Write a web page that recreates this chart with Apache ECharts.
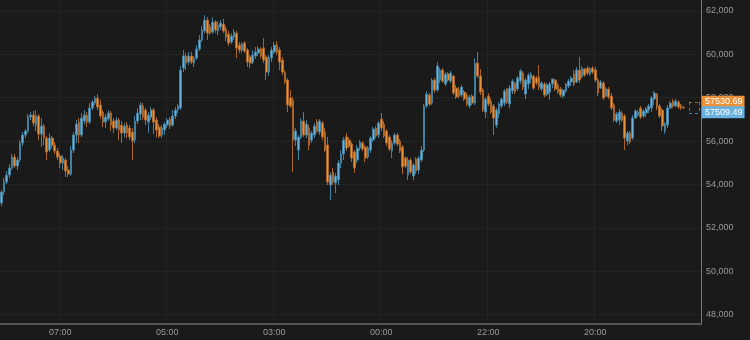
<!DOCTYPE html>
<html><head><meta charset="utf-8">
<script src="https://cdn.jsdelivr.net/npm/echarts@6/dist/echarts.min.js"></script>
<style>html,body{margin:0;padding:0;background:#1a1a1a}#c{width:750px;height:340px}</style>
</head><body><div id="c"></div>
<script>
const opens=[53143,53650,54111,54433,54756,55263,54848,55124,55908,56276,
56461,57106,57198,56737,57152,56322,56691,56138,55585,56138,
55816,55539,55309,54986,55124,54664,54479,55585,56276,56875,
56276,56921,57198,56875,57520,57751,57981,57659,57336,56875,
57013,57290,56921,56599,56967,56737,56368,56737,56599,56414,
56046,56921,57244,57613,57428,56875,57106,57428,56967,56645,
56276,56507,56737,57013,56737,57152,57428,57520,59364,59917,
59640,59917,59594,59824,60239,60654,61069,61575,61253,61022,
61483,61069,61253,61391,61161,60930,60562,60792,60976,60423,
60193,60516,60193,59870,59640,59917,60055,60239,60285,59870,
59179,59824,60101,60423,60193,59732,59179,58811,57981,57889,
56046,55585,56184,56921,56276,56599,56046,56276,56875,56414,
56829,56414,55816,53973,54572,54065,54203,54986,55401,56184,
56046,55862,55493,55124,55677,55908,55724,55263,55585,56046,
56599,56276,57013,56783,56461,56184,55539,55908,56276,56000,
55724,55217,54433,55124,54387,55171,54664,55124,55585,57613,
58119,57751,58811,58350,58811,59271,58626,59087,58765,58995,
58442,58350,58119,58258,58119,57613,58073,57751,59594,58995,
58350,57336,58073,57843,57613,56737,57244,57613,57751,58396,
57705,58304,58672,58396,58765,59133,58165,58626,58857,58995,
58903,58949,58396,58626,58165,58258,58626,58811,58580,58396,
58073,58304,58534,58718,59087,58718,59271,58949,59317,59364,
59087,59364,59271,58811,58442,58672,58073,58396,58073,57659,
56921,56967,57290,57152,56000,56368,56138,57060,57198,57520,
57152,57290,57428,57520,57935,58165,57613,57428,56461,56737,
57520,57843,57613,57797,57659,57560];
const closes=[53650,54111,54433,54756,55263,54848,55124,55908,56276,56461,
57106,57198,56829,57152,56322,56691,56138,55493,56138,55816,
55539,55263,54986,55217,54618,54479,55585,56276,56783,56276,
57060,57198,56875,57520,57797,57981,57566,57152,56875,57106,
57290,56737,56599,56967,56507,56368,56691,56368,56184,56000,
56921,57290,57659,57106,56967,57198,57428,56875,56507,56230,
56599,56783,56967,56691,57152,57428,57613,59271,59917,59594,
59917,59640,59824,60239,60654,61115,61575,60976,60976,61483,
61115,61345,61437,61069,60792,60516,60838,61022,60285,60193,
60469,60147,59640,59594,59963,60101,60239,59917,59732,59179,
59824,60193,60423,60101,59640,59179,58718,57659,57613,56046,
56461,56184,56921,56276,56783,55816,56368,56691,56461,56921,
56184,55585,54111,54433,54111,54387,54986,55401,56046,55677,
55770,55217,54756,55677,55954,55631,55217,55677,56138,56553,
56230,56829,56599,56230,55908,55631,55908,56276,55862,55539,
54802,54848,55124,54572,54894,54618,55217,55585,57613,58165,
57705,58811,58350,59456,59271,58765,59087,58811,59133,58212,
58027,58073,58488,57935,57705,58027,57751,59594,58995,58258,
57428,57935,57705,57336,57060,57428,57705,57935,58304,57797,
58442,58765,58258,58903,59225,58488,58811,59041,59087,58442,
58672,58488,58672,58119,58580,58626,58857,58396,58258,58119,
58350,58626,58765,58903,58626,59271,58811,59364,59041,59133,
59317,59179,58811,58212,58718,57981,58396,58027,57520,56967,
57244,57336,56967,56138,56368,55954,57060,57382,57336,57106,
57382,57474,57613,57981,58212,57566,57152,56691,56783,57520,
57751,57613,57843,57566,57520,57530.69];
const lows=[53002,53512,54019,54295,54664,54756,54664,55032,55770,56138,
56368,56967,56691,56461,56046,55724,55816,55124,55493,55677,
55401,55124,54756,54664,54341,54341,54387,55447,55908,55908,
56184,56783,56645,56783,57428,57659,57428,57013,56645,56599,
56921,56461,56368,56507,56046,55908,56184,56138,56046,55124,
55908,56783,56967,56967,56737,56368,56967,56322,56184,56138,
56138,56276,56599,56553,56645,57013,57290,57428,59179,59271,
59502,59548,59410,59732,60147,60562,60976,60654,60884,60930,
60976,60884,61115,60976,60608,60377,60469,60654,59824,60055,
60055,60055,59410,59364,59548,59778,59917,59824,59594,58811,
58995,59640,60009,59963,59271,59041,58626,57336,57520,54572,
55770,55124,56092,56184,56138,55585,55908,56138,56368,56276,
56046,55493,53973,53281,53973,53604,53973,54756,55124,55539,
55677,55032,54526,54986,55539,55539,55032,55171,55447,55954,
56138,56138,56461,56138,55770,55539,55217,55816,55770,55447,
54479,54756,54203,54479,54203,54479,54479,55032,55493,57520,
57613,57659,58212,58258,58672,58672,58534,58718,58672,58119,
57935,57981,58027,57843,57613,57520,57659,57659,58903,58119,
57336,57060,57613,57244,56276,56599,57060,57520,57613,57705,
57520,58165,58165,58304,58626,58350,57935,58396,58672,58350,
58580,58350,58304,58027,58073,57889,58442,58304,58165,58027,
57981,58212,58442,58534,58534,58672,58672,58903,58949,59041,
58995,59087,58718,58073,58396,57889,58027,57935,57428,56875,
56829,56737,56875,55585,55816,55862,56046,57013,57106,57013,
57060,57106,57290,57336,57659,57428,57060,56461,56322,56599,
57474,57520,57566,57474,57428,57480];
const highs=[53742,54295,54618,54940,55401,55401,55263,56046,56414,56553,
57244,57336,57382,57428,57244,57060,56783,56230,56368,56230,
55954,55677,55447,55355,55217,54848,55770,56414,56967,57060,
57290,57428,57336,57751,57889,58073,58165,57889,57428,57244,
57428,57382,57060,57106,57060,56921,56829,56875,56737,56599,
57152,57520,57797,57751,57520,57336,57566,57520,57106,56783,
56737,56875,57060,57106,57428,57566,57705,59456,60193,60055,
60101,60101,59917,60423,60884,61299,61806,61714,61391,61714,
61575,61529,61575,61621,61299,61069,60976,61161,61069,60562,
60562,60608,60285,59963,60193,60331,60377,60331,60746,59963,
59963,60331,60562,60608,60331,59870,59271,58903,58350,58027,
56599,56276,57060,57336,56967,56737,56461,56829,57013,57013,
56921,56599,56184,54572,54756,54526,55124,55585,56184,56368,
56184,55954,55585,55816,56046,56000,55816,55770,56230,56645,
56691,56921,57290,56921,56553,56276,56046,56368,56368,56092,
55816,55309,55263,55217,54986,55263,55309,55770,57705,58304,
58212,58903,58903,59640,59364,59364,59179,59179,59225,59041,
58580,58488,58580,58350,58212,58119,58165,59824,60101,59317,
58442,58027,58212,57981,57705,57520,57797,57981,58396,58442,
58580,58857,58718,58995,59317,59225,58903,59133,59179,59041,
58995,59502,58765,58718,58672,58718,58903,58857,58672,58488,
58396,58672,58857,58995,59271,59410,59870,59456,59364,59456,
59410,59456,59410,58903,58811,58765,58488,58488,58212,57751,
57336,57474,57382,57244,56461,56461,57198,57474,57428,57613,
57474,57566,57705,58073,58304,58212,57705,57520,56875,57659,
57843,57935,57935,57889,57705,57610];
const timeLabels=['07:00','05:00','03:00','00:00','22:00','20:00'];
const timeSlots=[22,62,102,142,182,222];
const slotCount=262;
const priceTicks=[48000,50000,52000,54000,56000,58000,60000,62000];
const askPrice=57530.69;
const bidPrice=57509.49;
const pendingBox={from:257,to:261,top:57810,mid:57530,bottom:57290};

const UP='#69b1df', UPB='#44809f', DN='#ea9139', DNB='#aa6628';
const labelMap={};
timeSlots.forEach((s,k)=>{labelMap[s]=timeLabels[k];});
const cats=[];for(let i=0;i<slotCount;i++)cats.push(String(i));
const ohlc=opens.map((o,i)=>[o,closes[i],lows[i],highs[i]]);
const showTick=(idx)=>labelMap[idx]!==undefined;
const FONT='Liberation Sans';
const dashed=(a,b,col)=>[{coord:a,label:{show:false},lineStyle:{color:col,type:[3,3],width:1}},{coord:b}];
const B=pendingBox;
const priceTag=(val,bg,dy)=>({yAxis:val,lineStyle:{color:'rgba(0,0,0,0)',width:0},
  label:{show:true,position:'end',distance:1,formatter:()=>val.toFixed(2),
    backgroundColor:bg,color:'#ffffff',fontSize:9,fontFamily:FONT,padding:[2,2,1,3],offset:[0,dy]}});
const chart=echarts.init(document.getElementById('c'),null,{renderer:'canvas'});
chart.setOption({
  animation:false,
  backgroundColor:'#1a1a1a',
  grid:{left:0,right:49,top:0,bottom:16,containLabel:false},
  xAxis:{type:'category',data:cats,boundaryGap:true,
    axisLine:{show:true,lineStyle:{color:'#555',width:2}},
    axisTick:{show:false},
    axisLabel:{interval:(i)=>showTick(i),formatter:(v,i)=>labelMap[i]||'',color:'#9a9a9a',fontSize:9,fontFamily:FONT,margin:4},
    splitLine:{show:true,interval:(i)=>showTick(i),lineStyle:{color:'#242424',width:1}}},
  yAxis:{type:'value',position:'right',min:47570,max:62500,scale:true,
    axisLine:{show:true,lineStyle:{color:'#7a7a7a',width:1}},
    axisTick:{show:false,customValues:priceTicks},
    axisLabel:{customValues:priceTicks,color:'#9a9a9a',fontSize:9,fontFamily:FONT,margin:5,
      formatter:(v)=>echarts.format.addCommas(v)},
    splitLine:{show:true,lineStyle:{color:'#242424',width:1}}},
  series:[{type:'candlestick',data:ohlc,barWidth:2.2,
    itemStyle:{color:UP,borderColor:UPB,color0:DN,borderColor0:DNB,borderWidth:1},
    markLine:{silent:true,symbol:['none','none'],animation:false,
      data:[
        priceTag(askPrice,DN,-6),
        priceTag(bidPrice,UP,4),
        dashed([B.from,B.top],[B.to,B.top],DNB),
        dashed([B.from,B.top],[B.from,B.mid],DNB),
        dashed([B.to,B.top],[B.to,B.mid],DNB),
        dashed([B.from,B.bottom],[B.to,B.bottom],UPB),
        dashed([B.from,B.mid],[B.from,B.bottom],UPB),
        dashed([B.to,B.mid],[B.to,B.bottom],UPB)
      ]}
  }]
});
</script></body></html>
